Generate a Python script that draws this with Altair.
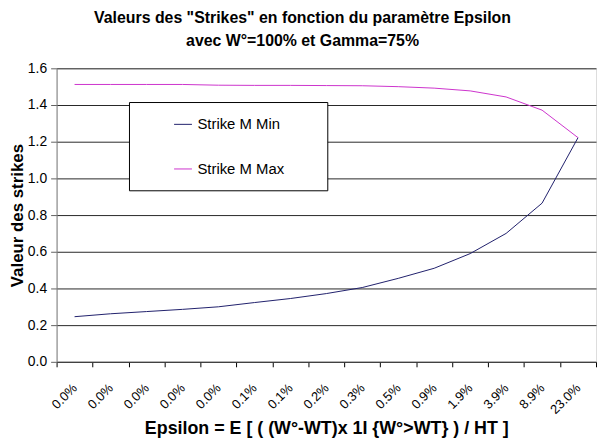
import altair as alt
import pandas as pd

# ---- data ----
epsilon_labels = ["0.0%", "0.0%", "0.0%", "0.0%", "0.0%", "0.1%", "0.1%", "0.2%",
                  "0.3%", "0.5%", "0.9%", "1.9%", "3.9%", "8.9%", "23.0%"]
strike_min = [0.246, 0.262, 0.274, 0.286, 0.300, 0.323, 0.345, 0.372,
              0.405, 0.455, 0.510, 0.590, 0.700, 0.865, 1.222]
strike_max = [1.512, 1.512, 1.512, 1.512, 1.508, 1.507, 1.507, 1.506,
              1.505, 1.500, 1.492, 1.477, 1.444, 1.372, 1.222]
series_names = ["Strike M Min", "Strike M Max"]
series_colors = ["#1f1f6b", "#cc33cc"]
y_ticks = [0.0, 0.2, 0.4, 0.6, 0.8, 1.0, 1.2, 1.4, 1.6]

rows = []
for i in range(len(epsilon_labels)):
    rows.append({"idx": i, "serie": series_names[0], "valeur": strike_min[i]})
    rows.append({"idx": i, "serie": series_names[1], "valeur": strike_max[i]})
df = pd.DataFrame(rows)

label_js = "[" + ",".join("'%s'" % l for l in epsilon_labels) + "][datum.value]"

FONT = "Liberation Sans"

chart = alt.Chart(df).mark_line(strokeWidth=1).encode(
    x=alt.X(
        "idx:O",
        scale=alt.Scale(paddingInner=0, paddingOuter=0),
        axis=alt.Axis(
            title="Epsilon = E [ ( (W°-WT)x 1I {W°>WT} ) / HT ]",
            titleFont=FONT,
            titleFontSize=18,
            titleFontWeight="bold",
            titleColor="#000000",
            titlePadding=3,
            labelExpr=label_js,
            labelAngle=-45,
            labelAlign="right",
            labelBaseline="middle",
            labelPadding=19,
            labelFont=FONT,
            labelFontSize=13,
            labelColor="#000000",
            tickBand="extent",
            tickSize=5,
            tickColor="#000000",
            domainColor="#404040",
            grid=False,
        ),
    ),
    y=alt.Y(
        "valeur:Q",
        scale=alt.Scale(domain=[0, 1.6], nice=False),
        axis=alt.Axis(
            title="Valeur des strikes",
            titleFont=FONT,
            titleFontSize=17,
            titleFontWeight="bold",
            titleColor="#000000",
            titlePadding=1,
            values=y_ticks,
            format=".1f",
            grid=True,
            gridColor="#000000",
            gridOpacity=0.85,
            tickSize=6,
            tickColor="#606060",
            domainColor="#808080",
            labelPadding=4,
            labelFont=FONT,
            labelFontSize=14,
            labelColor="#000000",
        ),
    ),
    color=alt.Color(
        "serie:N",
        scale=alt.Scale(domain=series_names, range=series_colors),
        legend=alt.Legend(
            orient="none",
            legendX=73,
            legendY=34,
            title="\u00a0",
            titleOrient="right",
            titlePadding=30,
            strokeColor="#000000",
            fillColor="#ffffff",
            padding=13,
            rowPadding=27,
            symbolType="stroke",
            symbolSize=324,
            symbolStrokeWidth=1,
            symbolOffset=32,
            labelOffset=5,
            labelFontSize=15,
            labelFont=FONT,
            labelColor="#000000",
            cornerRadius=0,
        ),
    ),
).properties(
    width=544,
    height=296,
    padding={"left": 0, "top": 0, "right": 0, "bottom": 0},
    title=alt.TitleParams(
        text=['Valeurs des "Strikes" en fonction du paramètre Epsilon',
              "avec W°=100% et Gamma=75%"],
        font=FONT,
        fontSize=16,
        fontWeight="bold",
        color="#000000",
        anchor="middle",
        frame="bounds",
        lineHeight=23,
        offset=13,
        dx=0,
    ),
).configure_view(
    stroke=None,
).configure(background="#ffffff")

chart.save("out.html", embed_options={"renderer": "svg", "actions": False})
